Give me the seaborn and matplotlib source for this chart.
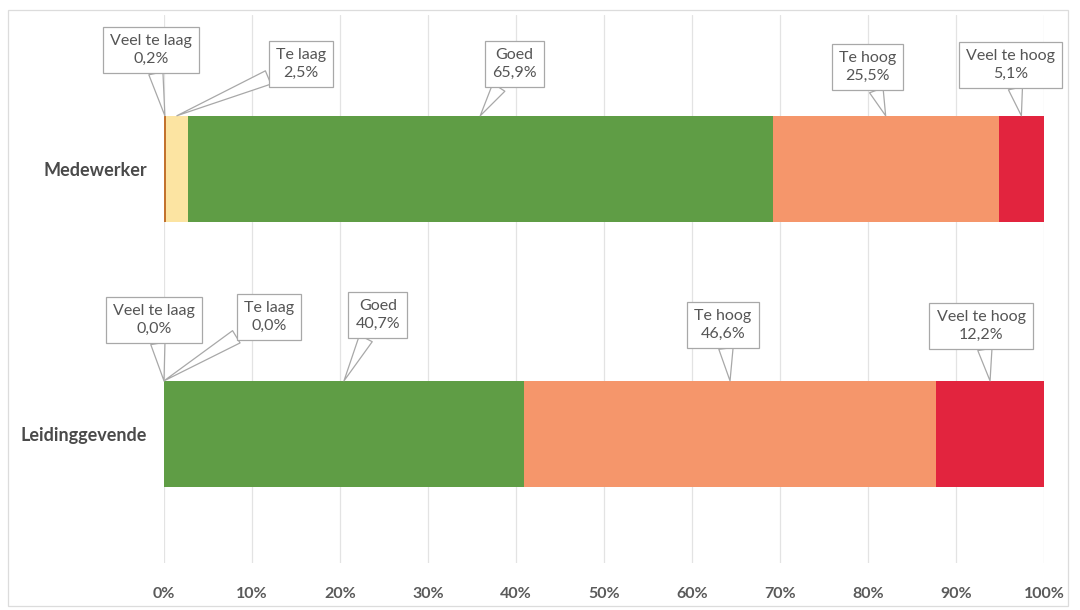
import matplotlib
matplotlib.use("Agg")
import matplotlib.pyplot as plt
from matplotlib.patches import Rectangle
import numpy as np
import pandas as pd
import seaborn as sns

# Survey outcome per group (percentages as reported)
groups = ["Medewerker", "Leidinggevende"]
levels = ["Veel te laag", "Te laag", "Goed", "Te hoog", "Veel te hoog"]
medewerker = [0.2, 2.5, 65.9, 25.5, 5.1]
leidinggevende = [0.0, 0.0, 40.7, 46.6, 12.2]
tick_values = [0, 10, 20, 30, 40, 50, 60, 70, 80, 90, 100]
tick_labels = ["0%", "10%", "20%", "30%", "40%", "50%", "60%", "70%", "80%", "90%", "100%"]

level_colors = ["#C2722E", "#FCE4A2", "#5F9D45", "#F5966B", "#E2243E"]

# Label box offsets (pixels) relative to the top centre of each segment
label_offsets = {
    "Medewerker": [(-14, 66), (124, 52), (34, 52), (-18, 49), (-11, 51)],
    "Leidinggevende": [(-10, 61), (105, 64), (34, 66), (-7, 56), (-9, 55)],
}

sns.set_theme(style="white")
plt.rcParams["font.family"] = ["Lato", "DejaVu Sans"]

raw = pd.DataFrame([medewerker, leidinggevende], index=groups, columns=levels)
share = raw.div(raw.sum(axis=1), axis=0) * 100  # 100% stacked
cum = share.cumsum(axis=1)

fig = plt.figure(figsize=(10.8, 6.1), dpi=100)
ax = fig.add_axes([164 / 1080, 1 - 563 / 610, 880 / 1080, 548 / 610])

bar_w = 0.4
# draw cumulative totals from the outermost level inwards so each overlays the next
for i in reversed(range(len(levels))):
    df = pd.DataFrame({"group": groups, "value": cum[levels[i]].values})
    sns.barplot(data=df, x="value", y="group", orient="h", color=level_colors[i],
                saturation=1, width=bar_w, linewidth=0, ax=ax, zorder=2)

ax.set_xlim(0, 100)
ax.set_ylim(1.487, -0.58)
ax.set_xticks(tick_values)
ax.set_xticklabels(tick_labels)
ax.xaxis.grid(True, color="#e3e3e3", lw=0.9, zorder=0)
ax.set_axisbelow(True)
for s in ax.spines.values():
    s.set_visible(False)
ax.set_xlabel("")
ax.set_ylabel("")
ax.tick_params(axis="x", length=0, pad=17, labelsize=11.5, labelcolor="#5a5a5a")
ax.tick_params(axis="y", length=0, pad=12, labelsize=13, labelcolor="#4a4a4a")
for lab in ax.get_xticklabels() + ax.get_yticklabels():
    lab.set_fontweight("bold")

# Callout labels
for gi, g in enumerate(groups):
    starts = cum.loc[g].values - share.loc[g].values
    centres = starts + share.loc[g].values / 2
    for li, lev in enumerate(levels):
        dx, dy = label_offsets[g][li]
        txt = f"{lev}\n{raw.loc[g, lev]:.1f}%".replace(".", ",")
        ax.annotate(
            txt, xy=(centres[li], gi - bar_w / 2), xycoords="data",
            xytext=(dx, dy), textcoords="offset pixels",
            ha="center", va="center", fontsize=11.5, color="#555555",
            linespacing=1.35, zorder=5, annotation_clip=False,
            bbox=dict(boxstyle="square,pad=0.45", fc="white", ec="#a8a8a8", lw=0.9),
            arrowprops=dict(arrowstyle="wedge,tail_width=0.9,shrink_factor=0.5",
                            fc="white", ec="#a8a8a8", lw=0.9,
                            shrinkA=0, shrinkB=0),
        )

# light frame around the chart area
fig.patches.append(Rectangle((8 / 1080, 1 - 606 / 610), 1060 / 1080, 596 / 610,
                             transform=fig.transFigure, fill=False,
                             ec="#dcdcdc", lw=0.9))

fig.savefig("out.png", dpi=100)
